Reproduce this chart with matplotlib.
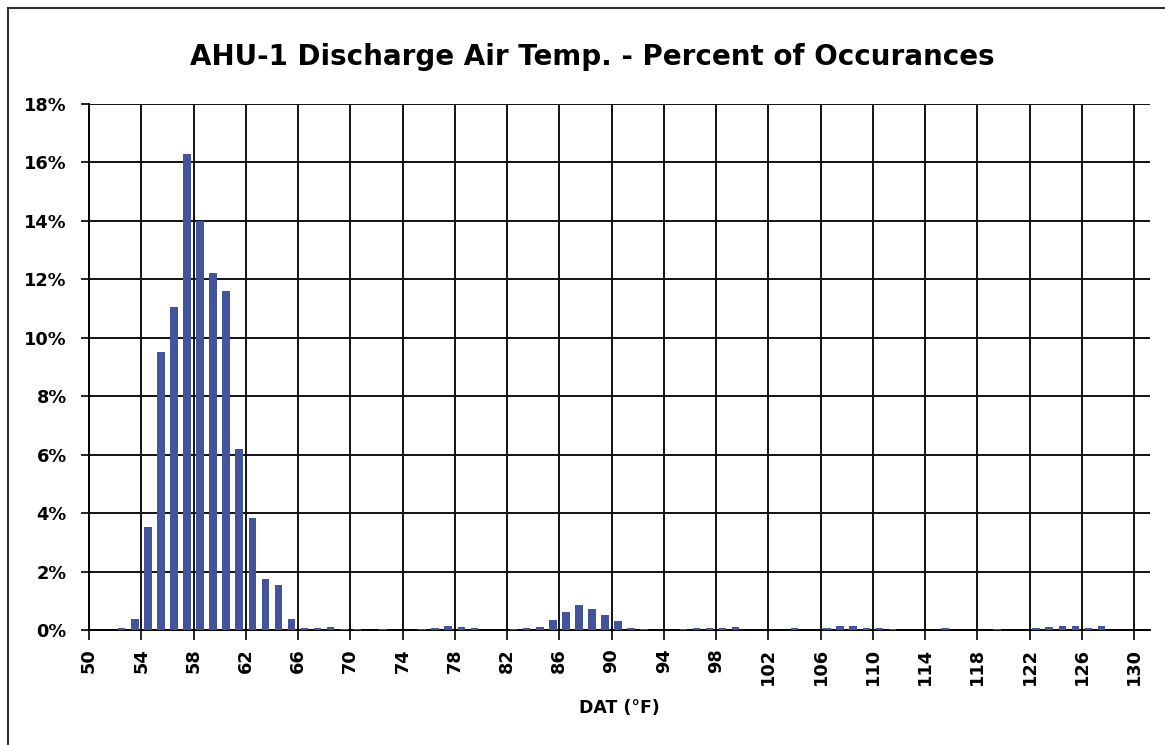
import matplotlib.pyplot as plt
from matplotlib.lines import Line2D
from matplotlib.ticker import PercentFormatter

plt.rcParams['font.family'] = ['DejaVu Sans']
plt.rcParams['font.weight'] = 'bold'

# discharge air temp bins (deg F) and percent of occurrences
temps = [52.5, 53.5, 54.5, 55.5, 56.5, 57.5, 58.5, 59.5, 60.5, 61.5, 62.5, 63.5, 64.5, 65.5,
         66.5, 67.5, 68.5, 69.5, 70.5, 72.5,
         75.5, 76.5, 77.5, 78.5, 79.5, 82.5, 83.5, 84.5,
         85.5, 86.5, 87.5, 88.5, 89.5, 90.5, 91.5, 92.5,
         95.5, 96.5, 97.5, 98.5, 99.5, 104.0,
         106.5, 107.5, 108.5, 109.5, 110.5, 111.5, 115.5, 119.5,
         122.5, 123.5, 124.5, 125.5, 126.5, 127.5]
pct = [0.08, 0.37, 3.52, 9.5, 11.05, 16.3, 14.0, 12.2, 11.6, 6.2, 3.83, 1.74, 1.54, 0.37,
       0.06, 0.08, 0.1, 0.05, 0.04, 0.04,
       0.05, 0.08, 0.12, 0.1, 0.06, 0.05, 0.07, 0.1,
       0.34, 0.62, 0.85, 0.72, 0.51, 0.3, 0.06, 0.03,
       0.04, 0.06, 0.08, 0.07, 0.1, 0.06,
       0.07, 0.12, 0.15, 0.08, 0.06, 0.04, 0.06, 0.05,
       0.06, 0.1, 0.14, 0.12, 0.08, 0.12]

xticks = list(range(50, 131, 4))
yticks = list(range(0, 19, 2))

fig = plt.figure(figsize=(11.65, 7.45), dpi=100)
ax = fig.add_axes([0.0764, 0.1544, 0.9106, 0.706])

ax.bar(temps, pct, width=0.58, color='#44549c', zorder=3)

ax.set_xlim(50, 131.2)
ax.set_ylim(0, 18)
ax.set_xticks(xticks)
ax.set_yticks(yticks)
ax.yaxis.set_major_formatter(PercentFormatter(decimals=0))
ax.tick_params(axis='x', labelrotation=90, labelsize=12.8, length=7, width=1.2, direction='out', pad=6)
ax.tick_params(axis='y', labelsize=12.8, length=6, width=1.2, direction='out', pad=10)

ax.grid(True, color='#111111', linewidth=1.4, zorder=1)
ax.set_axisbelow(True)
for side in ['top', 'right']:
    ax.spines[side].set_visible(False)
for side in ['left', 'bottom']:
    ax.spines[side].set_linewidth(1.4)

ax.set_xlabel('DAT (°F)', fontsize=12.5, fontweight='bold', labelpad=10)
fig.text(0.508, 0.923, 'AHU-1 Discharge Air Temp. - Percent of Occurances',
         ha='center', va='center', fontsize=20, fontweight='bold')

# chart frame
fig.add_artist(Line2D([8 / 1165, 8 / 1165], [0, 1 - 8 / 745], color='#333333', linewidth=1.5))
fig.add_artist(Line2D([8 / 1165, 1], [1 - 8 / 745, 1 - 8 / 745], color='#333333', linewidth=1.5))

fig.savefig('out.png', dpi=100)
